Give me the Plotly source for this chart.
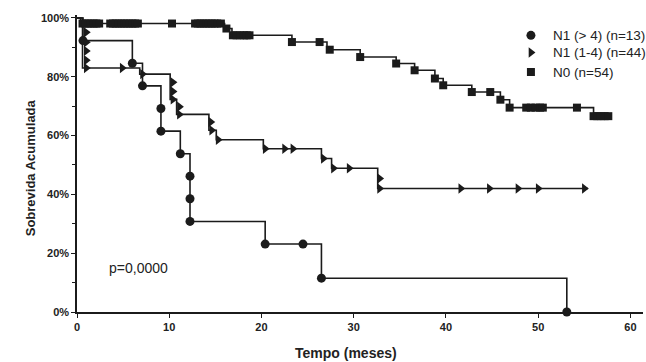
import plotly.graph_objects as go

# ---------------- data ----------------
# N1 (> 4) (n=13) - circles
n1g4_t = [0, 0.65, 6.0, 7.1, 9.1, 11.2, 12.25, 20.4, 26.5, 53.1]
n1g4_s = [100, 92.3, 84.6, 76.9, 61.5, 53.8, 30.8, 23.1, 11.5, 0]
n1g4_mark_t = [0.65, 6.0, 7.1, 9.1, 9.1, 11.2, 12.25, 12.25, 12.25, 20.4, 24.5, 26.5, 53.1]
n1g4_mark_s = [92.3, 84.6, 76.9, 69.2, 61.5, 53.8, 46.2, 38.5, 30.8, 23.1, 23.1, 11.5, 0]

# N1 (1-4) (n=44) - triangles
n1_t = [0, 0.6, 6.8, 10.1, 10.8, 14.3, 15.1, 20.2, 26.5, 27.6, 32.6, 55.4]
n1_s = [100, 83.0, 80.9, 72.3, 67.2, 61.8, 58.6, 55.5, 52.2, 48.9, 42.0, 42.0]
n1_mark_t = [1.0, 1.0, 1.0, 1.0, 1.0, 4.9, 7.1, 10.4, 10.4, 10.4, 11.1, 11.1, 14.5, 14.6,
             15.3, 20.4, 22.5, 23.4, 26.7, 27.8, 29.5, 32.8, 32.8, 41.6, 44.7, 47.8, 50.0, 55.0]
n1_mark_s = [95.1, 91.7, 88.8, 85.6, 83.0, 83.0, 80.9, 78.1, 75.0, 72.3, 69.8, 67.2, 64.6, 61.8,
             58.6, 55.5, 55.5, 55.5, 52.2, 48.9, 48.9, 45.4, 42.0, 42.0, 42.0, 42.0, 42.0, 42.0]

# N0 (n=54) - squares
n0_t = [0, 0.4, 16.0, 16.8, 23.3, 27.1, 30.7, 34.6, 36.6, 38.8, 39.7, 42.8, 45.9, 46.9, 56.0, 57.6]
n0_s = [100, 98.1, 96.4, 94.1, 91.8, 89.2, 86.7, 84.5, 82.2, 79.4, 77.1, 74.8, 72.2, 69.5, 66.6, 66.6]
n0_mark_t = [0.6, 0.9, 1.2, 1.5, 1.8, 2.1, 2.4, 3.6, 3.9, 4.2, 4.5, 4.8, 5.1, 5.4, 5.7, 6.0, 6.3, 6.6,
             10.3, 12.8, 13.1, 13.4, 13.7, 14.0, 14.3, 14.6, 14.9, 15.2, 15.6,
             16.2, 16.9, 17.3, 17.7, 18.1, 18.4, 18.7,
             23.3, 26.3, 27.4, 30.7, 34.6, 36.6, 38.8, 39.7, 42.8, 44.8, 45.9, 46.9,
             48.7, 49.2, 49.7, 50.2, 50.5, 54.2, 56.0, 56.4, 56.8, 57.2, 57.6]
n0_mark_s = [98.1] * 29 + [96.4] + [94.1] * 6 + [91.8, 91.8, 89.2, 86.7, 84.5, 82.2, 79.4, 77.1,
             74.8, 74.8, 72.2, 69.5, 69.5, 69.5, 69.5, 69.5, 69.5, 69.5,
             66.6, 66.6, 66.6, 66.6, 66.6]

legend_names = ["N1 (> 4) (n=13)", "N1 (1-4) (n=44)", "N0 (n=54)"]
x_ticks = [0, 10, 20, 30, 40, 50, 60]
y_ticks = [0, 20, 40, 60, 80, 100]

X_RANGE = [0, 61.36]
Y_RANGE = [0, 101]
INK = "#1b1b1b"
FONT = "Liberation Sans, Arial, sans-serif"
fig = go.Figure()

groups = [
    (n1g4_t, n1g4_s, n1g4_mark_t, n1g4_mark_s, "circle", 9),
    (n1_t, n1_s, n1_mark_t, n1_mark_s, "triangle-right", 9),
    (n0_t, n0_s, n0_mark_t, n0_mark_s, "square", 8),
]
for (t, s, mt, ms, sym, size), name in zip(groups, legend_names):
    fig.add_trace(go.Scatter(x=t, y=s, mode="lines", line=dict(color=INK, width=1.6, shape="hv"),
                             showlegend=False, hoverinfo="skip", cliponaxis=False))
for (t, s, mt, ms, sym, size), name in zip(groups, legend_names):
    fig.add_trace(go.Scatter(x=mt, y=ms, mode="markers", name=name, showlegend=False,
                             marker=dict(symbol=sym, size=size, color=INK, line=dict(width=0)),
                             cliponaxis=False))

# legend (positions as fractions of the plot area)
leg_x_marker = 0.802
leg_x_text = 0.8375
leg_rows = [0.9315, 0.8735, 0.808]
for (t, s, mt, ms, sym, size), yy in zip(groups, leg_rows):
    fig.add_trace(go.Scatter(x=[X_RANGE[0] + leg_x_marker * (X_RANGE[1] - X_RANGE[0])],
                             y=[Y_RANGE[0] + yy * (Y_RANGE[1] - Y_RANGE[0])],
                             mode="markers", showlegend=False, hoverinfo="skip", cliponaxis=False,
                             marker=dict(symbol=sym, size=size, color=INK, line=dict(width=0))))

annotations = [
    dict(text="Sobrevida Acumulada", xref="paper", yref="paper", x=-0.083, y=0.484,
         xanchor="center", yanchor="middle", textangle=-90, showarrow=False,
         font=dict(family=FONT, size=13, color="#222", weight="bold")),
    dict(text="Tempo (meses)", xref="paper", yref="paper", x=0.475, y=-0.139,
         xanchor="center", yanchor="middle", showarrow=False,
         font=dict(family=FONT, size=14, color="#222", weight="bold")),
    dict(text="p=0,0000", xref="x", yref="y", x=6.7, y=14.9, xanchor="center", yanchor="middle",
         showarrow=False, font=dict(family=FONT, size=14, color="#222")),
]
for name, yy in zip(legend_names, leg_rows):
    annotations.append(dict(text=name, xref="paper", yref="paper", x=leg_x_text, y=yy,
                            xanchor="left", yanchor="middle", showarrow=False,
                            font=dict(family=FONT, size=13.5, color="#222")))

tickfont = dict(family=FONT, size=11, color="#222", weight="bold")
fig.update_layout(
    width=646, height=362,
    margin=dict(l=77, r=3, t=15, b=50, autoexpand=False),
    paper_bgcolor="white", plot_bgcolor="white",
    showlegend=False,
    xaxis=dict(range=X_RANGE, tickvals=x_ticks, ticktext=[str(v) for v in x_ticks],
               showgrid=False, zeroline=False, showline=True, linecolor=INK, linewidth=1.5,
               ticks="outside", ticklen=4, tickcolor=INK, tickwidth=1.2, tickfont=tickfont),
    yaxis=dict(range=Y_RANGE, tickvals=y_ticks, ticktext=[f"{v}%" for v in y_ticks],
               showgrid=False, zeroline=False, showline=True, linecolor=INK, linewidth=1.5,
               ticks="outside", ticklen=4, tickcolor=INK, tickwidth=1.2, tickfont=tickfont,
               minor=dict(tickvals=[10, 30, 50, 70, 90], ticks="outside", ticklen=3,
                          tickcolor=INK, tickwidth=1.2)),
    annotations=annotations,
)

fig.write_html("out.html")
